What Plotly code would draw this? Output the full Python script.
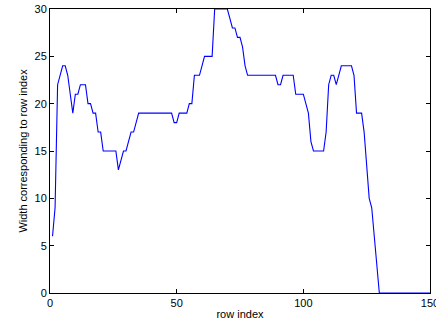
import plotly.graph_objects as go

# Row index values (MATLAB-style, starting at 1)
row_index = list(range(1, 151))

# Width corresponding to row index
width_vals = (
    [6, 9, 22, 23, 24, 24, 23, 21, 19, 21,
     21, 22, 22, 22, 20, 20, 19, 19, 17, 17,
     15, 15, 15, 15, 15, 15, 13, 14, 15, 15,
     16, 17, 17, 18, 19, 19, 19, 19, 19, 19,
     19, 19, 19, 19, 19, 19, 19, 19, 18, 18,
     19, 19, 19, 19, 20, 20, 23, 23, 23, 24,
     25, 25, 25, 25, 30, 30, 30, 30, 30, 30,
     29, 28, 28, 27, 27, 26, 24, 23, 23, 23,
     23, 23, 23, 23, 23, 23, 23, 23, 23, 22,
     22, 23, 23, 23, 23, 23, 21, 21, 21, 21,
     20, 19, 16, 15, 15, 15, 15, 15, 17, 22,
     23, 23, 22, 23, 24, 24, 24, 24, 24, 23,
     19, 19, 19, 17, 13, 10, 9, 6, 3, 0]
    + [0] * 20
)

x_ticks = [0, 50, 100, 150]
y_ticks = [0, 5, 10, 15, 20, 25, 30]

fig = go.Figure()
fig.add_trace(go.Scatter(
    x=row_index, y=width_vals, mode="lines",
    line=dict(color="#0000ff", width=1.1),
    showlegend=False, cliponaxis=True,
))

axis_common = dict(
    showline=True, linecolor="black", linewidth=1,
    mirror="allticks", ticks="inside", ticklen=4, tickcolor="black",
    showgrid=False, zeroline=False, ticklabeloverflow="allow",
    tickfont=dict(family="Liberation Sans, Arial", size=11, color="black"),
)

fig.update_layout(
    width=436, height=326,
    margin=dict(l=50, r=6, t=9, b=33),
    paper_bgcolor="white", plot_bgcolor="white",
    font=dict(family="Liberation Sans, Arial", size=11, color="black"),
    xaxis=dict(range=[0, 150], tickvals=x_ticks, ticktext=[str(v) for v in x_ticks],
               title=dict(text="row index", standoff=2,
                          font=dict(family="Liberation Sans, Arial", size=11)),
               automargin=False, **axis_common),
    yaxis=dict(range=[0, 30], tickvals=y_ticks, ticktext=[str(v) for v in y_ticks],
               title=dict(text="Width corresponding to row index", standoff=4,
                          font=dict(family="Liberation Sans, Arial", size=11)),
               automargin=False, **axis_common),
)

fig.write_html("out.html", config={"displayModeBar": False},
               post_script="document.body.style.margin='0';document.body.style.overflow='hidden';")
